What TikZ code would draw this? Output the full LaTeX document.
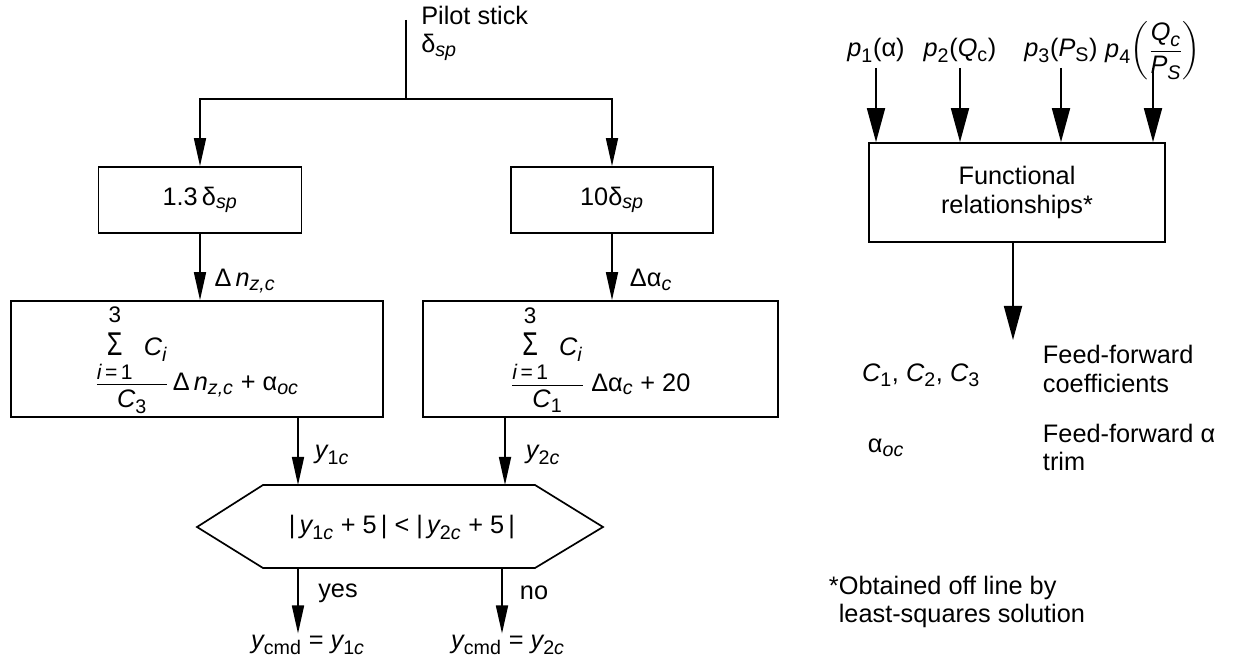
\documentclass[tikz,border=0pt]{standalone}
\usepackage{amsmath}
\usepackage{graphicx}
\usepackage{fontspec}
\setmainfont{Liberation Sans}
\usetikzlibrary{arrows.meta}
\newcommand{\vr}[1]{\text{\itshape #1}}
\newcommand{\tx}[1]{\text{#1}}
\newcommand{\ix}[1]{_{\text{\fontsize{14}{14}\selectfont\itshape #1}}}
\newcommand{\ixr}[1]{_{\text{\fontsize{14}{14}\selectfont #1}}}
\newcommand{\somat}{\mathop{\text{\scalebox{1}[1.3]{Σ}}}\limits_{\text{\fontsize{15}{15}\selectfont\rule{0pt}{14pt}\itshape i\upshape\,=\,1}}^{\text{\fontsize{16}{16}\selectfont\rule[-5pt]{0pt}{5pt}3}}}

\begin{document}
\begin{tikzpicture}[x=0.025cm, y=-0.025cm, >={Triangle[length=7mm,width=3mm]},
	font=\fontsize{18}{20}\selectfont,
	bloco/.style={draw, line width=1.2pt, inner sep=0pt},
	seta/.style={->, line width=1.2pt},
	setag/.style={-{Triangle[length=8.5mm,width=4.5mm]}, line width=1.3pt}]

	\useasboundingbox (0,0) rectangle (1241,661);

	% Manche do piloto
	\coordinate (stick) at (406,20);
	\coordinate (split) at (406,99);
	\node[anchor=north west, inner sep=0pt, align=left] (pilot) at (421,6) {Pilot stick\\$\tx{δ}\ix{sp}$};
	\draw[line width=1.2pt] (stick) -- (split);

	% Ganhos
	\node[bloco, minimum width=5.08cm, minimum height=1.65cm] (ganho1) at (200,200) {$\tx{1.3\,δ}\ix{sp}$};
	\node[bloco, minimum width=5.05cm, minimum height=1.65cm] (ganho2) at (612,200) {$\tx{10δ}\ix{sp}$};
	\draw[seta] (split) -| (ganho1);
	\draw[seta] (split) -| (ganho2);

	% Somatorios
	\node[bloco, minimum width=9.3cm, minimum height=2.9cm] (soma1) at (197,359)
		{$\dfrac{\somat\ \vr{C}\ix{i}}{\vr{C}\ixr{3}}\,\tx{Δ}\,\vr{n}\ix{z,c}\tx{ + }\tx{α}\ix{oc}$};
	\node[bloco, minimum width=8.875cm, minimum height=2.9cm] (soma2) at (600.5,359)
		{$\dfrac{\somat\ \vr{C}\ix{i}}{\vr{C}\ixr{1}}\ \tx{Δα}\ix{c}\tx{ + 20}$};
	\draw[seta] (ganho1.south) -- (ganho1.south |- soma1.north);
	\draw[seta] (ganho2.south) -- (ganho2.south |- soma2.north);
	\node (dnz) at (245,281) {$\tx{Δ}\,\vr{n}\ix{z,c}$};
	\node (dalfa) at (651,280) {$\tx{Δα}\ix{c}$};

	% Comparacao
	\draw[line width=1.2pt] (197,527) -- (263,485) -- (535,485) -- (603,527) -- (535,568) -- (263,568) -- cycle;
	\node (teste) at (402,527) {$\tx{|\,}\vr{y}\ixr{1\itshape c}\tx{ + 5\,| < |\,}\vr{y}\ixr{2\itshape c}\tx{ + 5\,|}$};
	\coordinate (in1) at (298,485);
	\coordinate (in2) at (505,485);
	\draw[seta] (soma1.south -| in1) -- (in1);
	\draw[seta] (soma2.south -| in2) -- (in2);
	\node (y1) at (332,455) {$\vr{y}\ixr{1\itshape c}$};
	\node (y2) at (543,455) {$\vr{y}\ixr{2\itshape c}$};

	% Saidas
	\coordinate (sim) at (298,568);
	\coordinate (nao) at (502,568);
	\node[inner sep=1pt] (saida1) at (308,645) {$\vr{y}\ixr{cmd}\tx{ = }\vr{y}\ixr{1\itshape c}$};
	\node[inner sep=1pt] (saida2) at (508,645) {$\vr{y}\ixr{cmd}\tx{ = }\vr{y}\ixr{2\itshape c}$};
	\draw[seta] (sim) -- (sim |- saida1.north);
	\draw[seta] (nao) -- (nao |- saida2.north);
	\node (yes) at (338,593) {yes};
	\node (no) at (534,593) {no};

	% Relacoes funcionais
	\node[bloco, minimum width=7.4cm, minimum height=2.475cm, align=center] (func) at (1017,192.5) {Functional\\relationships*};
	\node (p1) at (876,50) {$\vr{p}\ixr{1}\tx{(α)}$};
	\node (p2) at (960,50) {$\vr{p}\ixr{2}\tx{(}\vr{Q}\ixr{c}\tx{)}$};
	\node (p3) at (1061,50) {$\vr{p}\ixr{3}\tx{(}\vr{P}\ixr{S}\tx{)}$};
	\node (p4) at (1153,51) {$\vr{p}\ixr{4}\!\left(\dfrac{\vr{Q}\ix{c}}{\vr{P}\ix{S}}\right)$};
	\draw[setag] (p1 |- 0,68) -- (p1 |- func.north);
	\draw[setag] (p2 |- 0,68) -- (p2 |- func.north);
	\draw[setag] (p3 |- 0,68) -- (p3 |- func.north);
	\draw[setag] (p4 |- 0,68) -- (p4 |- func.north);

	% Coeficientes
	\coordinate (coef) at (1013,340);
	\draw[setag] (func.south -| coef) -- (coef);
	\node (cs) at (921,375) {$\vr{C}\ixr{1}\tx{, }\vr{C}\ixr{2}\tx{, }\vr{C}\ixr{3}$};
	\node[anchor=west, align=left] (cstxt) at (1038,369) {Feed-forward\\coefficients};
	\node (aoc) at (886,448) {$\tx{α}\ix{oc}$};
	\node[anchor=west, align=left] (aoctxt) at (1038,447) {Feed-forward α\\trim};

	% Nota
	\node[anchor=west, align=left] (nota) at (824,602) {*Obtained off line by\\\phantom{*}least-squares solution};

\end{tikzpicture}
\end{document}
